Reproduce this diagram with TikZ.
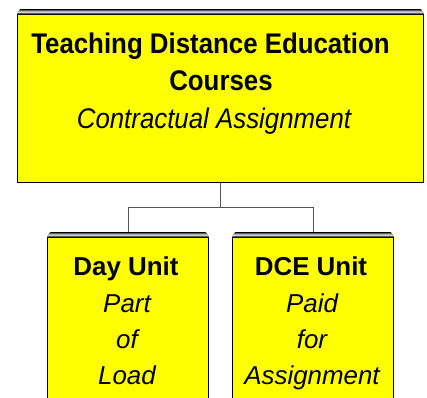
\documentclass[tikz,border=0pt]{standalone}
\usepackage{fontspec}
\setmainfont{Liberation Sans}
\newfontfamily\condfont[FakeStretch=0.91]{Liberation Sans}
\usetikzlibrary{calc}
\definecolor{boxyellow}{HTML}{FFFF00}
\definecolor{stripgray}{HTML}{5A5A5A}
\definecolor{conngray}{HTML}{555555}
\tikzset{
  orgbox/.style={draw=black, line width=1bp, fill=boxyellow, rectangle, inner sep=0pt, anchor=north west},
  conn/.style={draw=conngray, line width=1bp},
  txt/.style={inner sep=0pt, anchor=base, font=\fontsize{26}{30}\selectfont},
  btxt/.style={txt, font=\fontsize{26}{30}\selectfont\bfseries},
  itxt/.style={txt, font=\fontsize{26}{30}\selectfont\itshape},
  tbtxt/.style={txt, font=\condfont\fontsize{28.5}{32}\selectfont\bfseries},
  titxt/.style={txt, font=\condfont\fontsize{28.5}{32}\selectfont\itshape},
}
\newcommand\tabstrip[1]{%
  \fill[stripgray] (#1.north west) -- ($(#1.north west)+(3,-5)$) -- ($(#1.north east)+(-3,-5)$) -- (#1.north east) -- cycle;
  \draw[black, line width=0.8bp] ($(#1.north west)+(3,-5)$) -- ($(#1.north east)+(-3,-5)$);
  \draw[gray!60, line width=0.5bp] ($(#1.north west)+(2,-3.2)$) -- ($(#1.north east)+(-2,-3.2)$);
  \draw[gray!40, line width=0.5bp] ($(#1.north west)+(1,-1.5)$) -- ($(#1.north east)+(-1,-1.5)$);
}
\begin{document}
\begin{tikzpicture}[x=1bp,y=-1bp]
\useasboundingbox (0,0) rectangle (427,398);
\clip (0,0) rectangle (427,398);
% boxes
\node[orgbox, minimum width=406bp, minimum height=168bp] (top) at (17,14) {};
\node[orgbox, minimum width=161bp, minimum height=175bp] (day) at (47,237) {};
\node[orgbox, minimum width=161bp, minimum height=175bp] (dce) at (232,237) {};
\tabstrip{top}
\tabstrip{day}
\tabstrip{dce}
% connectors
\coordinate (bus) at (220,207);
\draw[conn] (top.south) -- (top.south |- bus) -| ($(day.north)+(0,-5)$);
\draw[conn] (top.south |- bus) -| ($(dce.north)+(0,-5)$);
% texts
\node[tbtxt] (t1) at (210.5,53) {Teaching Distance Education};
\node[tbtxt] (t2) at (221,90) {Courses};
\node[titxt] (t3) at (214,128) {Contractual Assignment};
\node[btxt] (d1) at (126,275) {Day Unit};
\node[itxt] (d2) at (127,312) {Part};
\node[itxt] (d3) at (127,348) {of};
\node[itxt] (d4) at (127,384) {Load};
\node[btxt] (e1) at (311,275) {DCE Unit};
\node[itxt] (e2) at (312,312) {Paid};
\node[itxt] (e3) at (312,348) {for};
\node[itxt] (e4) at (312,384) {Assignment};
\end{tikzpicture}
\end{document}
